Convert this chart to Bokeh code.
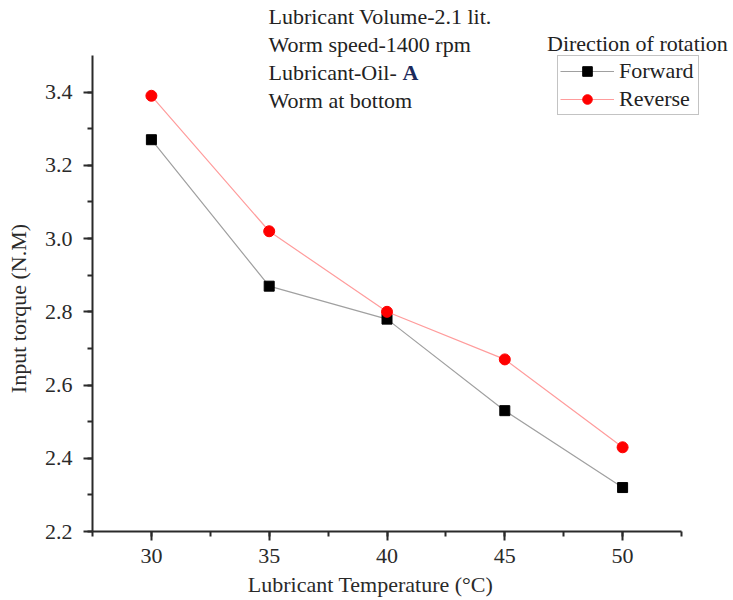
import math
from bokeh.plotting import figure
from bokeh.models import Range1d, SingleIntervalTicker, Legend, LegendItem, Label, PrintfTickFormatter
from bokeh.embed import file_html
from bokeh.resources import INLINE

temperature = [30, 35, 40, 45, 50]
forward = [3.27, 2.87, 2.78, 2.53, 2.32]
reverse = [3.39, 3.02, 2.80, 2.67, 2.43]
x_label = "Lubricant Temperature (°C)"
y_label = "Input torque (N.M)"
notes = ["Lubricant Volume-2.1 lit.", "Worm speed-1400 rpm", "Lubricant-Oil-", "Worm at bottom"]
legend_title = "Direction of rotation"

FONT = "Liberation Serif"
FS = "22px"

# axis extents 27.5..52.5 and 2.2..3.5; the frame spans the whole canvas so no text is clipped
X0, X1 = 27.5, 52.5
Y0, Y1 = 2.2, 3.5
px_x = 589 / 25.0
px_y = 476 / 1.3

p = figure(width=733, height=600, output_backend="svg", toolbar_location=None,
           x_range=Range1d(X0 - 92 / px_x, X0 + 641 / px_x),
           y_range=Range1d(Y0 - 69 / px_y, Y0 + 531 / px_y),
           min_border_left=0, min_border_right=0, min_border_top=0, min_border_bottom=0)
p.outline_line_color = None
p.xgrid.visible = False
p.ygrid.visible = False
p.background_fill_color = "white"

p.xaxis.ticker = SingleIntervalTicker(interval=5, num_minor_ticks=2)
p.yaxis.ticker = SingleIntervalTicker(interval=0.2, num_minor_ticks=2)
p.yaxis.formatter = PrintfTickFormatter(format="%.1f")
p.xaxis.bounds = (X0, X1)
p.yaxis.bounds = (Y0, Y1)
p.yaxis.fixed_location = X0
p.xaxis.fixed_location = Y0

for ax in (p.xaxis, p.yaxis):
    ax.axis_line_width = 2
    ax.axis_line_color = "#2a2a2a"
    ax.major_tick_line_color = "#2a2a2a"
    ax.minor_tick_line_color = "#2a2a2a"
    ax.major_tick_line_width = 2
    ax.minor_tick_line_width = 2
    ax.major_tick_out = 9
    ax.major_tick_in = 0
    ax.minor_tick_out = 5
    ax.minor_tick_in = 0
    ax.major_label_text_font = FONT
    ax.major_label_text_font_size = FS
    ax.major_label_text_color = "#2a2a2a"

p.xaxis.major_label_standoff = 8
p.yaxis.major_label_standoff = 11

fl = p.line(temperature, forward, line_color="#a0a0a0", line_width=1.2)
fm = p.scatter(temperature, forward, marker="square", size=10, fill_color="black", line_color="black")
rl = p.line(temperature, reverse, line_color="#ff9c9c", line_width=1.2)
rm = p.scatter(temperature, reverse, marker="circle", size=11, fill_color="#ff0000", line_color="#ff0000")

legend = Legend(items=[LegendItem(label="Forward", renderers=[fl, fm]),
                       LegendItem(label="Reverse", renderers=[rl, rm])],
                location=(557, 485), margin=0, padding=2, spacing=2,
                glyph_width=54, glyph_height=24, label_height=24, label_width=77,
                label_standoff=5,
                label_text_font=FONT, label_text_font_size=FS, label_text_color="#222222",
                border_line_color="#888888", border_line_width=1.5,
                background_fill_color="white", background_fill_alpha=1)
p.add_layout(legend, "center")

def add_label(text, x, y, **kw):
    opts = dict(text_font=FONT, text_font_size=FS, text_color="#222222",
                text_baseline="middle", text_align="left")
    opts.update(kw)
    p.add_layout(Label(x=x, y=y, text=text, **opts))

note_y = [3.6065, 3.5300, 3.4536, 3.3771]
for t, yy in zip(notes, note_y):
    add_label(t, 34.97, yy)
add_label("A", 40.66, note_y[2], text_font_style="bold", text_color="#1c2a5c")
add_label(legend_title, 50.63, 3.5328, text_align="center")
add_label(y_label, 24.36, 2.809, text_align="center", angle=math.pi / 2, text_color="#2a2a2a")
add_label(x_label, 39.30, 2.0553, text_align="center", text_color="#2a2a2a")

open("out.html", "w").write(file_html(p, INLINE))
